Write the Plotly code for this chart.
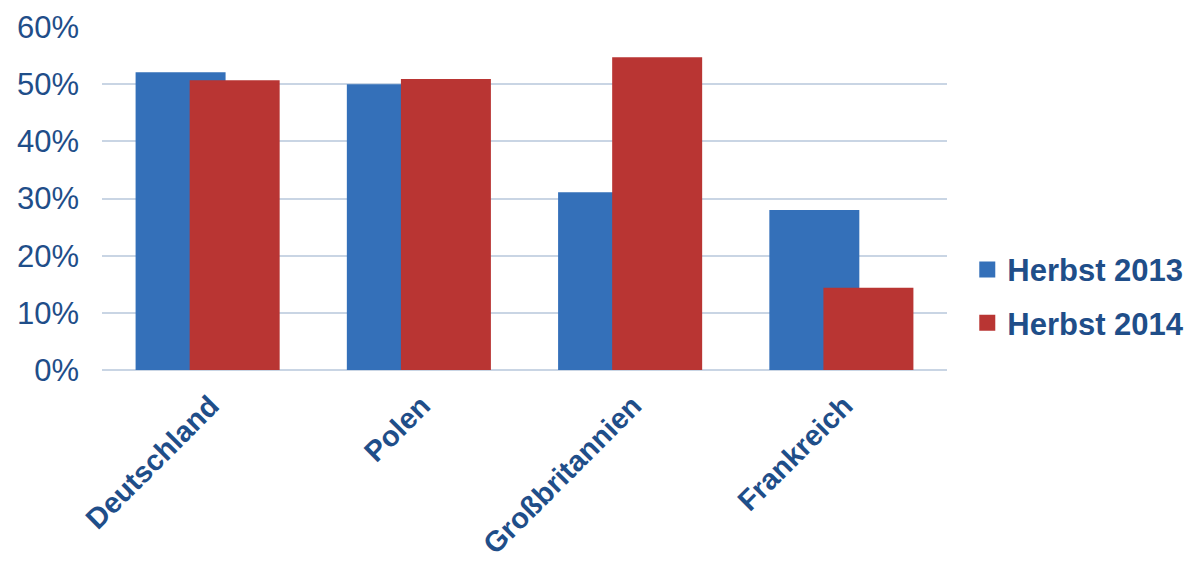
import plotly.graph_objects as go

categories = ["Deutschland", "Polen", "Großbritannien", "Frankreich"]
herbst_2013 = [52.1, 50.0, 31.1, 28.0]
herbst_2014 = [50.7, 50.9, 54.7, 14.4]
series_names = ["Herbst 2013", "Herbst 2014"]
y_ticks = [0, 10, 20, 30, 40, 50, 60]
y_tick_labels = ["0%", "10%", "20%", "30%", "40%", "50%", "60%"]

text_color = "#1F4E89"
font_family = "Liberation Sans, Arial, sans-serif"
blue = "#3470B9"
red = "#B93533"

fig = go.Figure()
fig.add_trace(go.Bar(
    name=series_names[0], x=categories, y=herbst_2013,
    width=0.426, offset=-0.341,
    marker=dict(color=blue, line=dict(width=0)),
    showlegend=False,
))
fig.add_trace(go.Bar(
    name=series_names[1], x=categories, y=herbst_2014,
    width=0.426, offset=-0.085,
    marker=dict(color=red, line=dict(width=0)),
    showlegend=False,
))
# legend entries with larger square symbols
for name, col, grp in [(series_names[0], blue, "a"), (series_names[1], red, "b")]:
    fig.add_trace(go.Scatter(
        name=name, x=[None], y=[None], mode="markers",
        marker=dict(symbol="square", size=16, color=col),
        legendgroup=grp, showlegend=True, hoverinfo="skip",
    ))

fig.update_layout(
    barmode="overlay",
    width=1195, height=572,
    margin=dict(l=102, r=248, t=27, b=202, autoexpand=False),
    paper_bgcolor="white", plot_bgcolor="white",
    font=dict(family=font_family, color=text_color),
    showlegend=True,
    legend=dict(
        x=1.024, y=0.215, xanchor="left", yanchor="middle",
        font=dict(size=31, weight="bold", color=text_color, family=font_family),
        traceorder="grouped", tracegroupgap=10,
        itemsizing="trace", itemwidth=30,
        bgcolor="rgba(0,0,0,0)",
    ),
    xaxis=dict(
        type="category",
        range=[-0.5, 3.5],
        tickangle=-45,
        tickfont=dict(size=29, weight="bold", color=text_color),
        showgrid=False, showline=False, ticks="",
        ticklabelstandoff=12, ticklabelshift=3,
    ),
    yaxis=dict(
        range=[0, 60],
        tickvals=y_ticks, ticktext=y_tick_labels,
        tickfont=dict(size=31, color=text_color),
        showgrid=True, gridcolor="#C9D5E4", gridwidth=2,
        zeroline=True, zerolinecolor="#C9D5E4", zerolinewidth=2,
        showline=False, ticks="", ticklabelstandoff=22,
    ),
)

fig.write_html("out.html")
